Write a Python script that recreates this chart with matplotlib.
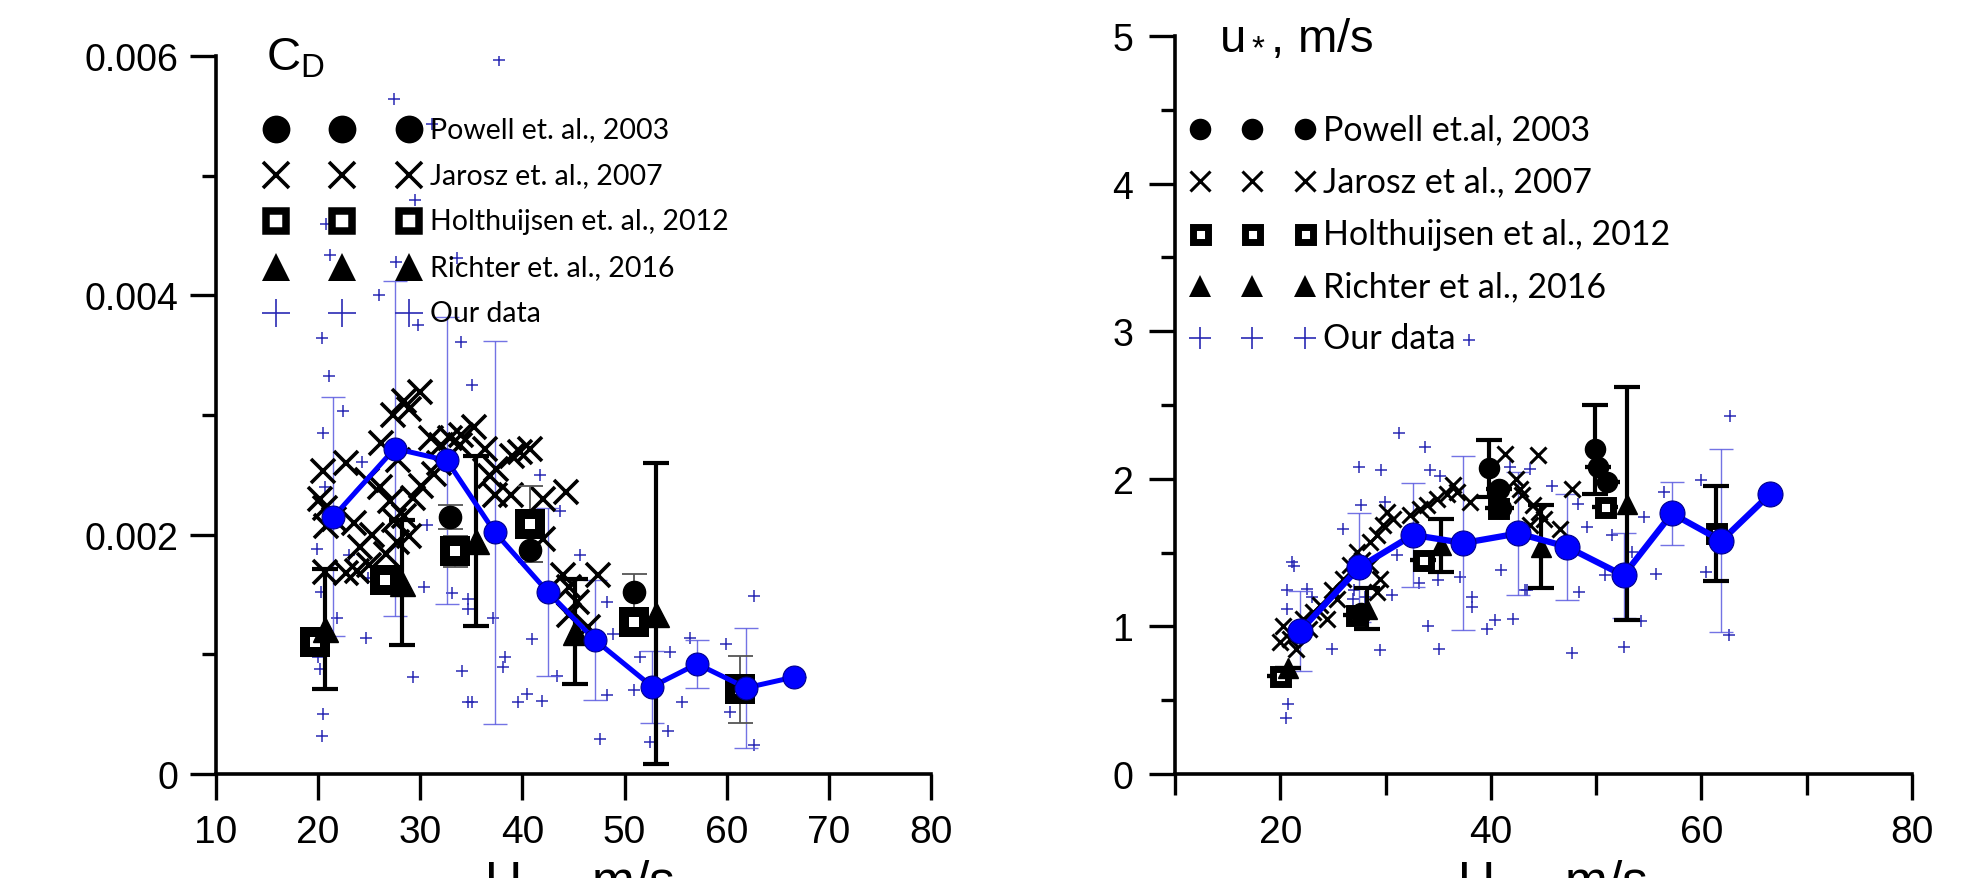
import numpy as np
import matplotlib
matplotlib.use("Agg")
import matplotlib.pyplot as plt
from matplotlib.ticker import FixedLocator

plt.rcParams['font.family'] = ['Liberation Sans', 'DejaVu Sans']
plt.rcParams['mathtext.fontset'] = 'custom'
plt.rcParams['mathtext.rm'] = 'Liberation Sans'
plt.rcParams['mathtext.it'] = 'Liberation Sans'

# ---------------- data: left panel (drag coefficient) ----------------
cd_mean_u = [21.5, 27.5, 32.6, 37.3, 42.5, 47.1, 52.7, 57.1, 61.9, 66.6]
cd_mean = [0.00215, 0.00272, 0.00262, 0.00202, 0.00152, 0.00112, 0.00073, 0.00092, 0.00072, 0.00081]
cd_mean_err = [0.0010, 0.0014, 0.0012, 0.0016, 0.0007, 0.0005, 0.0003, 0.0002, 0.0005, 0.0]

cd_our_u = [37.7, 27.4, 31.1, 29.5, 20.8, 21.2, 27.6, 33.6, 26.0, 29.8, 20.4, 34.0, 35.1, 21.1,
            22.4, 20.5, 24.3, 20.7, 19.9, 23.0, 24.9, 20.3, 21.8, 24.7, 20.0, 20.2, 20.5, 20.4,
            29.3, 30.4, 30.7, 33.1, 34.1, 34.7, 34.7, 34.7, 41.7, 37.1, 40.9, 38.3, 38.1, 39.6,
            40.4, 41.9, 35.1, 45.6, 43.7, 48.3, 48.9, 43.4, 48.3, 47.6, 51.5, 50.9, 54.4, 54.3,
            52.5, 55.6, 56.4, 62.7, 59.9, 60.3, 62.7]
cd_our = [0.00597, 0.00564, 0.00543, 0.00480, 0.00460, 0.00434, 0.00428, 0.00431, 0.00400, 0.00375,
          0.00364, 0.00361, 0.00325, 0.00333, 0.00303, 0.00285, 0.00261, 0.00240, 0.00188, 0.00183,
          0.00164, 0.00152, 0.00130, 0.00114, 0.00098, 0.00088, 0.00050, 0.00032, 0.00081, 0.00156,
          0.00208, 0.00151, 0.00086, 0.00060, 0.00146, 0.00138, 0.00250, 0.00130, 0.00113, 0.00098,
          0.00089, 0.00060, 0.00067, 0.00061, 0.00060, 0.00183, 0.00220, 0.00144, 0.00117, 0.00082,
          0.00066, 0.00029, 0.00098, 0.00070, 0.00102, 0.00036, 0.00027, 0.00060, 0.00114, 0.00149,
          0.00109, 0.00052, 0.00024]

cd_powell_u = [32.9, 40.7, 50.9]
cd_powell = [0.00215, 0.00187, 0.00152]
cd_powell_err = [0.0001, 0.0001, 0.00015]

cd_jarosz_u = [20.2, 20.5, 20.7, 20.8, 21.6, 20.7, 22.7, 22.7, 24.1, 25.3, 24.8, 26.1, 26.2, 27.3,
               28.4, 30.0, 28.9, 27.8, 27.0, 28.4, 29.3, 27.4, 26.6, 27.7, 28.9, 30.1, 31.0, 32.0,
               32.9, 31.3, 31.8, 33.9, 34.0, 35.3, 36.3, 36.8, 37.4, 37.3, 39.0, 39.8, 40.7, 38.9,
               42.0, 42.0, 44.3, 44.0, 44.6, 45.3, 44.6, 47.4, 46.4, 23.5, 25.0, 23.8]
cd_jarosz = [0.00230, 0.00253, 0.00222, 0.00207, 0.00213, 0.00169, 0.00260, 0.00168, 0.00190, 0.00200,
             0.00246, 0.00240, 0.00277, 0.00300, 0.00312, 0.00319, 0.00305, 0.00262, 0.00228, 0.00216,
             0.00231, 0.00212, 0.00184, 0.00194, 0.00199, 0.00241, 0.00281, 0.00275, 0.00281, 0.00251,
             0.00260, 0.00275, 0.00283, 0.00290, 0.00272, 0.00249, 0.00255, 0.00233, 0.00266, 0.00269,
             0.00272, 0.00233, 0.00196, 0.00230, 0.00236, 0.00166, 0.00156, 0.00144, 0.00133, 0.00166,
             0.00123, 0.00210, 0.00175, 0.00170]

cd_holt_u = [19.7, 26.5, 33.4, 40.7, 50.9, 61.3]
cd_holt = [0.00110, 0.00162, 0.00186, 0.00209, 0.00127, 0.00071]
cd_holt_err = [0.0, 0.0, 0.00013, 0.00032, 0.0, 0.00028]

cd_richter_u = [20.7, 28.2, 35.5, 45.1, 53.1]
cd_richter = [0.00121, 0.00160, 0.00195, 0.00119, 0.00134]
cd_richter_err = [0.00050, 0.00052, 0.00071, 0.00044, 0.00126]

# ---------------- data: right panel (friction velocity) ----------------
us_mean_u = [21.9, 27.5, 32.6, 37.4, 42.6, 47.2, 52.6, 57.2, 61.9, 66.5]
us_mean = [0.97, 1.40, 1.62, 1.565, 1.63, 1.54, 1.345, 1.765, 1.58, 1.895]
us_mean_err = [0.27, 0.37, 0.35, 0.59, 0.415, 0.36, 0.29, 0.215, 0.62, 0.0]

us_our_u = [31.3, 33.7, 27.5, 29.6, 34.2, 35.2, 27.7, 29.9, 26.0, 21.1, 21.3, 20.6, 22.5, 20.6,
            24.9, 29.5, 20.3, 20.7, 20.5, 30.6, 26.9, 34.0, 35.1, 33.2, 35.0, 37.1, 38.2, 38.2,
            39.6, 40.4, 42.1, 41.0, 34.1, 31.1, 43.2, 41.8, 62.7, 60.0, 56.4, 54.5, 55.7, 60.4,
            49.1, 51.5, 50.8, 53.4, 54.3, 52.6, 47.7, 48.4, 43.4, 45.8, 43.7, 62.6, 48.3, 37.95,
            23.0, 28.0, 27.0]
us_our = [2.313, 2.216, 2.081, 2.062, 2.058, 2.020, 1.825, 1.843, 1.657, 1.436, 1.410, 1.244, 1.255,
          1.120, 0.848, 0.843, 0.622, 0.475, 0.378, 1.214, 1.187, 1.006, 0.848, 1.296, 1.312, 1.334,
          1.199, 1.131, 0.984, 1.040, 1.047, 1.379, 1.470, 1.481, 1.250, 2.081, 2.427, 1.990, 1.911,
          1.742, 1.357, 1.368, 1.674, 1.617, 1.345, 1.504, 1.036, 0.860, 0.821, 1.233, 1.244, 1.952,
          2.065, 0.943, 1.832, 2.940, 1.200, 1.200, 1.250]

us_powell_u = [27.7, 39.8, 40.8, 41.0, 49.9, 50.2, 51.0]
us_powell = [1.09, 2.07, 1.93, 1.80, 2.20, 2.08, 1.98]
us_powell_err = [0.0, 0.19, 0.0, 0.0, 0.30, 0.0, 0.0]

us_jarosz_u = [20.3, 20.0, 20.9, 22.2, 22.7, 23.1, 23.8, 24.4, 25.4, 26.0, 26.6, 27.3, 28.5, 29.2,
               29.8, 30.7, 30.1, 28.5, 29.5, 29.2, 32.3, 33.3, 33.9, 34.9, 35.8, 36.8, 36.4, 38.0,
               41.3, 42.4, 43.0, 44.5, 47.7, 44.0, 44.6, 45.0, 46.6, 43.7, 42.8, 21.5, 24.9, 27.8]
us_jarosz = [1.006, 0.893, 0.916, 1.050, 0.980, 1.097, 1.142, 1.050, 1.187, 1.323, 1.413, 1.504,
             1.572, 1.617, 1.685, 1.730, 1.775, 1.413, 1.323, 1.233, 1.752, 1.798, 1.820, 1.866,
             1.900, 1.911, 1.956, 1.843, 2.171, 2.000, 1.890, 2.160, 1.934, 1.820, 1.775, 1.730,
             1.662, 1.685, 1.930, 0.850, 1.250, 1.450]

us_holt_u = [19.97, 27.2, 33.6, 40.7, 50.8, 61.4]
us_holt = [0.667, 1.08, 1.45, 1.80, 1.81, 1.63]
us_holt_err = [0.0, 0.0, 0.0, 0.0, 0.0, 0.32]

us_richter_u = [20.7, 28.2, 35.3, 44.8, 52.9]
us_richter = [0.72, 1.12, 1.55, 1.54, 1.83]
us_richter_err = [0.0, 0.14, 0.18, 0.28, 0.79]

legend_labels_left = ["Powell et. al., 2003", "Jarosz et. al., 2007", "Holthuijsen et. al., 2012",
                      "Richter et. al., 2016", "Our data"]
legend_labels_right = ["Powell et.al, 2003", "Jarosz et al., 2007", "Holthuijsen et al., 2012",
                       "Richter et al., 2016", "Our data"]

# ---------------- figure ----------------
W, H = 1970, 879
fig = plt.figure(figsize=(W / 100, H / 100), dpi=100)

def fx(px):
    return px / W

def fy(py):
    return 1 - py / H

axL = fig.add_axes([fx(216), fy(775), fx(931) - fx(216), fy(57) - fy(775)])
axR = fig.add_axes([fx(1175), fy(775), fx(1912) - fx(1175), fy(37) - fy(775)])

BLUE = '#0000ff'
PLUS = '#2a2ab4'
EBLUE = '#5a5ae0'
LEG_FONT = ['Lato', 'DejaVu Sans']


def style_axes(ax):
    for s in ['top', 'right']:
        ax.spines[s].set_visible(False)
    for s in ['left', 'bottom']:
        ax.spines[s].set_linewidth(2.6)
    ax.tick_params(which='major', direction='out', length=19, width=2.4)
    ax.tick_params(axis='x', which='major', labelsize=28, pad=10)
    ax.tick_params(axis='y', which='major', labelsize=27, pad=8)
    ax.tick_params(which='minor', direction='out', length=10, width=2.4)


def draw_panel(ax, s, mean_u, mean_v, mean_e, our_u, our_v, pow_u, pow_v, pow_e,
               jar_u, jar_v, hol_u, hol_v, hol_e, ric_u, ric_v, ric_e, thin_black):
    # our data scatter
    ax.plot(our_u, our_v, ls='none', marker='+', ms=s['plus'], mew=1.1, color=PLUS, zorder=2)
    # blue thin error bars
    ax.errorbar(mean_u, mean_v, yerr=mean_e, fmt='none', ecolor=EBLUE, elinewidth=1.0,
                capsize=8.3, capthick=1.0, alpha=0.85, zorder=2)
    # Jarosz
    ax.plot(jar_u, jar_v, ls='none', marker='x', ms=s['x'], mew=s['xw'], color='black', zorder=3)
    # Holthuijsen
    ebkw = dict(fmt='none', ecolor='#555555', elinewidth=1.3, capsize=9, capthick=1.3) if thin_black \
        else dict(fmt='none', ecolor='black', elinewidth=3.0, capsize=9.5, capthick=3.0)
    ax.errorbar(hol_u, hol_v, yerr=hol_e, zorder=3, **ebkw)
    ax.plot(hol_u, hol_v, ls='none', marker='s', ms=s['sq'], mew=s['sqw'], mfc='white',
            mec='black', zorder=4)
    # Powell
    ax.errorbar(pow_u, pow_v, yerr=pow_e, zorder=3, **ebkw)
    ax.plot(pow_u, pow_v, ls='none', marker='o', ms=s['o'], color='black', zorder=4)
    # Richter
    ax.errorbar(ric_u, ric_v, yerr=ric_e, fmt='none', ecolor='black', elinewidth=3.0,
                capsize=9.5, capthick=3.0, zorder=4)
    ax.plot(ric_u, ric_v, ls='none', marker='^', ms=s['tri'], color='black', zorder=4)
    # mean line
    ax.plot(mean_u, mean_v, color=BLUE, lw=s['lw'], marker='o', ms=s['mean'],
            mfc=BLUE, mec='#00008b', mew=0.8, zorder=6)


def draw_legend(labels, xs_px, y0_px, dy_px, s, text_x_px, fs):
    styles = [dict(marker='o', ms=s['o'], color='black', mew=0),
              dict(marker='x', ms=s['x'], color='black', mew=s['xw']),
              dict(marker='s', ms=s['sq'], mfc='white', mec='black', mew=s['sqw']),
              dict(marker='^', ms=s['tri'], color='black', mew=0),
              dict(marker='+', ms=s['plus'], color=PLUS, mew=1.2)]
    for i, (lab, st) in enumerate(zip(labels, styles)):
        yy = fy(y0_px + i * dy_px)
        for xp in xs_px:
            fig.lines.append(plt.Line2D([fx(xp)], [yy], transform=fig.transFigure, ls='none',
                                        zorder=10, **st))
        fig.text(fx(text_x_px), yy, lab, fontsize=fs, family=LEG_FONT, va='center', ha='left',
                 zorder=10)


sL = dict(plus=9, x=17, xw=2.6, sq=14.4, sqw=7.2, o=16, tri=18, mean=16.5, lw=3.6)
sR = dict(plus=9, x=12, xw=2.2, sq=10.8, sqw=5.0, o=14.5, tri=14.5, mean=18, lw=4.5)

draw_panel(axL, sL, cd_mean_u, cd_mean, cd_mean_err, cd_our_u, cd_our, cd_powell_u, cd_powell,
           cd_powell_err, cd_jarosz_u, cd_jarosz, cd_holt_u, cd_holt, cd_holt_err,
           cd_richter_u, cd_richter, cd_richter_err, thin_black=True)
draw_panel(axR, sR, us_mean_u, us_mean, us_mean_err, us_our_u, us_our, us_powell_u, us_powell,
           us_powell_err, us_jarosz_u, us_jarosz, us_holt_u, us_holt, us_holt_err,
           us_richter_u, us_richter, us_richter_err, thin_black=False)

# axes limits / ticks
axL.set_xlim(10, 80)
axL.set_ylim(0, 0.006)
axL.set_xticks(range(10, 81, 10))
axL.set_yticks([0, 0.002, 0.004, 0.006])
axL.set_yticklabels(['0', '0.002', '0.004', '0.006'])
axL.yaxis.set_minor_locator(FixedLocator([0.001, 0.003, 0.005]))
style_axes(axL)

axR.set_xlim(10, 80)
axR.set_ylim(0, 5)
axR.set_xticks([20, 40, 60, 80])
axR.xaxis.set_minor_locator(FixedLocator([10, 30, 50, 70]))
axR.set_yticks(range(0, 6))
axR.yaxis.set_minor_locator(FixedLocator([0.5, 1.5, 2.5, 3.5, 4.5]))
style_axes(axR)
axR.tick_params(axis='x', which='minor', length=15)
axR.tick_params(axis='y', which='major', pad=11)

for ax in (axL, axR):
    for sp in ax.spines.values():
        sp.set_zorder(7)

# legends
sLL = dict(o=20, x=19, xw=2.6, sq=14.8, sqw=5.4, tri=20, plus=20)
sRL = dict(o=15.5, x=14, xw=2.2, sq=10.8, sqw=5.0, tri=15.5, plus=16)
draw_legend(legend_labels_left, [276, 342, 409], 130, 46, sLL, 430, 20.5)
draw_legend(legend_labels_right, [1200, 1252, 1305], 130, 52.3, sRL, 1323, 24.5)

# axis titles
fig.text(fx(266), fy(70), r'C$_\mathrm{D}$', fontsize=34, ha='left', va='baseline')
fig.text(fx(1219), fy(51), r'u$_*$, m/s', fontsize=34, ha='left', va='baseline')

# x labels (cut at the bottom edge as in the original)
fig.text(fx(484), fy(898), r'U$_{10}$, m/s', fontsize=37, ha='left', va='baseline')
fig.text(fx(1457), fy(898), r'U$_{10}$, m/s', fontsize=37, ha='left', va='baseline')

fig.savefig('out.png', dpi=100)
